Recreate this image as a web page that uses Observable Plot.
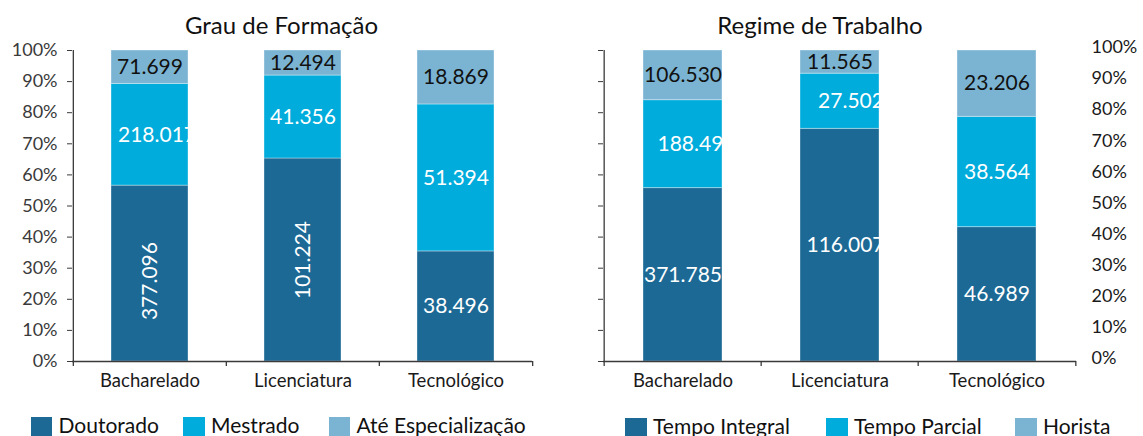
<!DOCTYPE html>
<html>
<head>
<meta charset="utf-8">
<script src="https://cdn.jsdelivr.net/npm/d3@7"></script>
<script src="https://cdn.jsdelivr.net/npm/@observablehq/plot@0.6"></script>
<style>
  body { margin: 0; background: #fff; font-family: Lato, sans-serif; }
  #wrap { position: relative; width: 1143px; height: 436px; overflow: hidden; }
  .chart { position: absolute; top: 0; }
  .title { position: absolute; top: 12.7px; font-size: 24px; line-height: 24px; color: #111; white-space: nowrap; transform: translateX(-50%); }
  .leg { position: absolute; top: 414px; font-size: 21px; line-height: 21px; color: #111; white-space: nowrap; }
  .leg .sw { position: absolute; left: 0; top: 3px; width: 21.5px; height: 21.5px; }
  .leg .lt { position: absolute; left: 28px; top: 0; }
</style>
</head>
<body>
<div id="wrap"></div>
<script>
// ---- data ----
const categories = ["Bacharelado", "Licenciatura", "Tecnológico"];

const formacaoTitle = "Grau de Formação";
const formacaoSeries = ["Doutorado", "Mestrado", "Até Especialização"];
const doutorado = [377096, 101224, 38496];
const mestrado = [218017, 41356, 51394];
const ateEspecializacao = [71699, 12494, 18869];

const regimeTitle = "Regime de Trabalho";
const regimeSeries = ["Tempo Integral", "Tempo Parcial", "Horista"];
const tempoIntegral = [371785, 116007, 46989];
const tempoParcial = [188497, 27502, 38564];
const horista = [106530, 11565, 23206];

const percentTicks = [0, 0.1, 0.2, 0.3, 0.4, 0.5, 0.6, 0.7, 0.8, 0.9, 1];

// ---- styles ----
const seriesColors = ["#1c6995", "#00acdc", "#7bb4d3"];
const axisColor = "#3a3a3a";
const textColor = "#1a1a1a";
const fmtNum = v => d3.format(",")(v).replace(/,/g, ".");
const fmtPct = d3.format(".0%");

const wrap = document.getElementById("wrap");
const SVGNS = "http://www.w3.org/2000/svg";

function buildRows(series, values) {
  return categories.flatMap((c, i) => series.map((s, j) => ({
    category: c, series: s, value: values[j][i], idx: j, top: j === series.length - 1
  })));
}

function parseTranslate(el) {
  const tr = el && el.getAttribute && el.getAttribute("transform");
  const m = tr && /translate\(\s*([-\d.e]+)(?:[ ,]+([-\d.e]+))?\s*\)/.exec(tr);
  return m ? [+m[1], +(m[2] || 0)] : [0, 0];
}

function makeChart(cfg) {
  const rows = buildRows(cfg.series, cfg.values);
  const plotW = cfg.width - cfg.marginLeft - cfg.marginRight;
  const step = plotW / categories.length;
  const shifts = cfg.labelShift || {};
  const keyOf = d => d.category + "|" + d.series;

  const labelMark = (test, dx, dy) => Plot.text(rows, {
    ...Plot.filter(test, Plot.stackY({
      x: "category", y: "value", z: "series", offset: "normalize",
      text: d => fmtNum(d.value),
      fill: d => d.top ? "#111111" : "#ffffff",
      rotate: d => (d.idx === 0 && cfg.rotateFirst.includes(d.category)) ? -90 : 0,
      fontSize: 21,
      className: "seglabel"
    })),
    dx, dy
  });

  const marks = [
    Plot.barY(rows, Plot.stackY({
      x: "category", y: "value", z: "series", offset: "normalize",
      fill: d => seriesColors[d.idx],
      stroke: "#ffffff", strokeOpacity: 0.35, strokeWidth: 1
    })),
    labelMark(d => !(keyOf(d) in shifts), 0, 0),
    ...Object.entries(shifts).map(([k, s]) => labelMark(d => keyOf(d) === k, s.dx || 0, s.dy || 0)),
    // baseline (x axis line)
    Plot.ruleY([0], {stroke: axisColor, strokeWidth: 1.3}),
    // y axis line at left edge of the frame
    Plot.ruleX(categories.slice(0, 1), {y1: 0, y2: 1, dx: -step / 2, stroke: axisColor, strokeWidth: 1.3}),
    // x tick marks between categories
    Plot.ruleX(categories, {y1: 0, y2: 0, dx: -step / 2, insetBottom: -5, stroke: axisColor, strokeWidth: 1.3}),
    Plot.ruleX(categories.slice(-1), {y1: 0, y2: 0, dx: step / 2, insetBottom: -5, stroke: axisColor, strokeWidth: 1.3}),
    Plot.axisX({tickSize: 0, tickPadding: 12, fontSize: 18.5, label: null, color: textColor})
  ];
  if (cfg.labelsRight) {
    marks.push(Plot.axisY({anchor: "left", ticks: percentTicks, tickFormat: () => "", tickSize: 5, label: null, color: axisColor}));
    marks.push(Plot.axisY({anchor: "right", ticks: percentTicks, tickFormat: fmtPct, tickSize: 0, tickPadding: 15, dy: -3, fontSize: 18, label: null, color: textColor}));
  } else {
    marks.push(Plot.axisY({anchor: "left", ticks: percentTicks, tickFormat: fmtPct, tickSize: 5, tickPadding: 10, fontSize: 18, label: null, color: axisColor}));
  }

  const svg = Plot.plot({
    width: cfg.width, height: 400,
    marginTop: 50, marginBottom: 39, marginLeft: cfg.marginLeft, marginRight: cfg.marginRight,
    x: {domain: categories, paddingInner: 0.5, paddingOuter: 0.25, label: null},
    y: {domain: [0, 1], label: null},
    color: {type: "identity"},
    style: {fontFamily: "Lato, sans-serif", fontSize: "18px", color: textColor, background: "transparent", overflow: "visible"},
    marks
  });

  // clip each segment label to its bar's width (as in the reference)
  const xs = svg.scale("x");
  const bw = xs.bandwidth;
  const centers = categories.map(c => xs.apply(c) + bw / 2);
  const H = 400;
  const defs = document.createElementNS(SVGNS, "defs");
  svg.insertBefore(defs, svg.firstChild);
  const texts = Array.from(svg.querySelectorAll(".seglabel text"));
  texts.forEach((t, i) => {
    const [gx] = parseTranslate(t.parentNode);
    let [tx] = parseTranslate(t);
    if (!t.getAttribute("transform")) tx = +(t.getAttribute("x") || 0);
    const rootX = tx + gx;
    let c = centers[0];
    centers.forEach(cc => { if (Math.abs(cc - rootX) < Math.abs(c - rootX)) c = cc; });
    const id = `clip-${cfg.key}-${i}`;
    const cp = document.createElementNS(SVGNS, "clipPath");
    cp.setAttribute("id", id);
    const r = document.createElementNS(SVGNS, "rect");
    r.setAttribute("x", c - gx - bw / 2);
    r.setAttribute("y", -H);
    r.setAttribute("width", bw);
    r.setAttribute("height", 3 * H);
    cp.appendChild(r);
    defs.appendChild(cp);
    const g = document.createElementNS(SVGNS, "g");
    g.setAttribute("clip-path", `url(#${id})`);
    t.parentNode.insertBefore(g, t);
    g.appendChild(t);
  });

  const holder = document.createElement("div");
  holder.className = "chart";
  holder.style.left = cfg.left + "px";
  holder.appendChild(svg);
  wrap.appendChild(holder);

  const title = document.createElement("div");
  title.className = "title";
  title.style.left = cfg.titleX + "px";
  title.textContent = cfg.title;
  wrap.appendChild(title);

  cfg.series.forEach((s, j) => {
    const item = document.createElement("div");
    item.className = "leg";
    item.style.left = cfg.legendX[j] + "px";
    if (cfg.legendTop) item.style.top = cfg.legendTop + "px";
    const sw = document.createElement("span");
    sw.className = "sw";
    sw.style.background = seriesColors[j];
    const lt = document.createElement("span");
    lt.className = "lt";
    lt.textContent = s;
    item.appendChild(sw);
    item.appendChild(lt);
    wrap.appendChild(item);
  });
}

makeChart({
  key: "formacao", title: formacaoTitle, series: formacaoSeries,
  values: [doutorado, mestrado, ateEspecializacao],
  left: 0, width: 560, marginLeft: 72, marginRight: 28,
  rotateFirst: ["Bacharelado", "Licenciatura"],
  labelShift: {"Bacharelado|Mestrado": {dx: 7}, "Bacharelado|Doutorado": {dy: 7.5}},
  labelsRight: false, titleX: 281.5, legendX: [30.5, 183, 328.5]
});

makeChart({
  key: "regime", title: regimeTitle, series: regimeSeries,
  values: [tempoIntegral, tempoParcial, horista],
  left: 560, width: 583, marginLeft: 43, marginRight: 67,
  rotateFirst: [],
  labelShift: {"Bacharelado|Tempo Parcial": {dx: 13.5}, "Licenciatura|Tempo Parcial": {dx: 11}, "Licenciatura|Tempo Integral": {dx: 5.5}},
  labelsRight: true, titleX: 820, legendX: [625, 826, 1015], legendTop: 415
});
</script>
</body>
</html>
